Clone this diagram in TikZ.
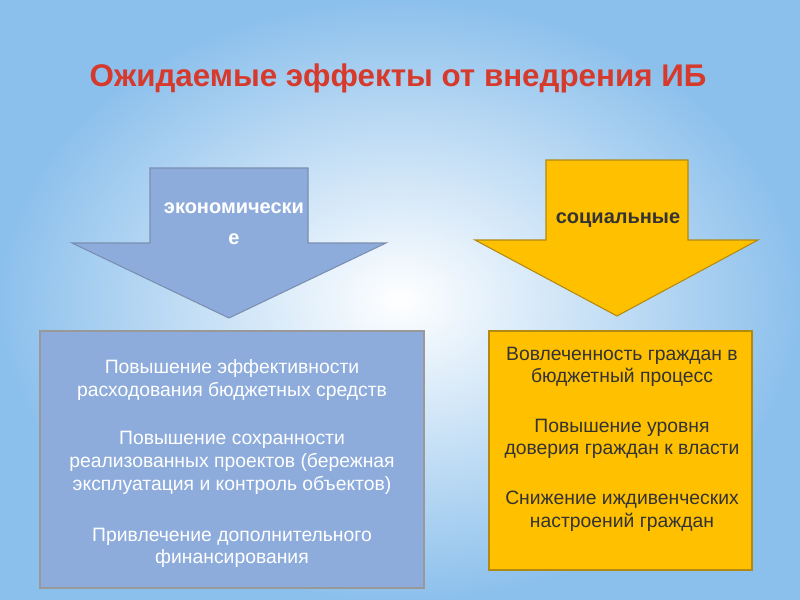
\documentclass[tikz,border=0pt]{standalone}
\usepackage{fontspec}
\setmainfont{Liberation Sans}
\usetikzlibrary{shadings}
\definecolor{bgout}{HTML}{8CC0EC}
\definecolor{ttl}{HTML}{D63A2C}
\definecolor{blu}{HTML}{8DACDC}
\definecolor{blub}{HTML}{7A8FB0}
\definecolor{gold}{HTML}{FFC000}
\definecolor{goldb}{HTML}{B38A10}
\tikzset{
 arrowshape/.style={line width=0.8pt, line join=miter},
 boxtext/.style={align=center, font=\fontsize{14.5}{17}\selectfont},
}
\begin{document}
\begin{tikzpicture}[x=0.75pt,y=-0.75pt]
\useasboundingbox (0,0) rectangle (800,600);
\shade[inner color=white, middle color=white!85!bgout, outer color=bgout] (0,0) rectangle (800,600);
\node[text=ttl, font=\bfseries\fontsize{23.5}{28}\selectfont] (title) at (398,78) {Ожидаемые эффекты от внедрения  ИБ};
% left arrow
\draw[arrowshape, fill=blu, draw=blub] (150,168) -- (308,168) -- (308,243) -- (386,243) -- (229,318) -- (72,243) -- (150,243) -- cycle;
\node[text=white, align=center, font=\bfseries\fontsize{15}{23}\selectfont] (econ) at (234,224) {экономически\\е};
% right arrow
\draw[arrowshape, fill=gold, draw=goldb] (546,160) -- (688,160) -- (688,240) -- (758,240) -- (617,316) -- (475,240) -- (546,240) -- cycle;
\node[text=black!80, font=\bfseries\fontsize{15}{18}\selectfont] (soc) at (618,220) {социальные};
% left box
\draw[line width=0.8pt, fill=blu, draw=black!40] (40,331) rectangle (424,588);
\node[boxtext, text=white] (l1) at (232,380) {Повышение эффективности\\расходования бюджетных средств};
\node[boxtext, text=white] (l2) at (232,463) {Повышение сохранности\\реализованных проектов (бережная\\эксплуатация и контроль объектов)};
\node[boxtext, text=white] (l3) at (232,548) {Привлечение дополнительного\\финансирования};
% right box
\draw[line width=0.8pt, fill=gold, draw=goldb] (489,331) rectangle (752,570);
\node[boxtext, text=black!80] (r1) at (622,367) {Вовлеченность граждан в\\бюджетный процесс};
\node[boxtext, text=black!80] (r2) at (622,439) {Повышение уровня\\доверия граждан к власти};
\node[boxtext, text=black!80] (r3) at (622,511) {Снижение иждивенческих\\настроений граждан};
\end{tikzpicture}
\end{document}
